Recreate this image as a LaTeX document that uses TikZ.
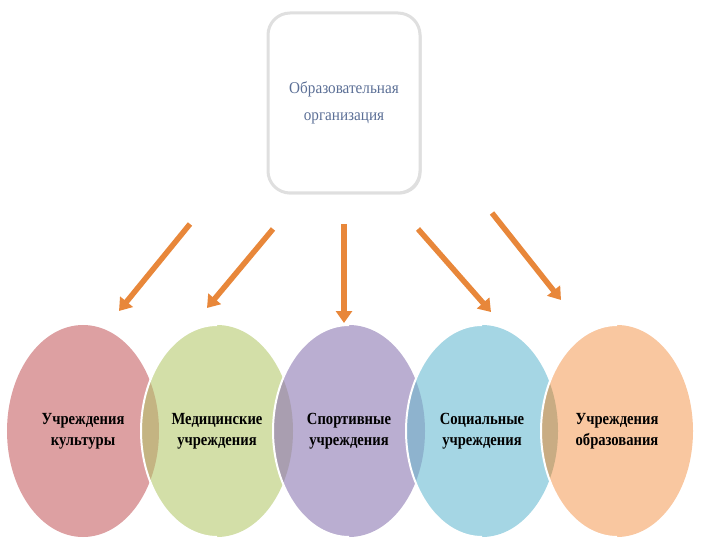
\documentclass[tikz,border=0pt]{standalone}
\usepackage{fontspec}
\setmainfont{Liberation Serif}
\usetikzlibrary{positioning}
\usetikzlibrary{shapes.geometric,arrows.meta,shadows}

\definecolor{kultcol}{HTML}{DDA0A2}
\definecolor{medcol}{HTML}{D3DFA8}
\definecolor{sportcol}{HTML}{BAAED1}
\definecolor{soccol}{HTML}{A5D6E4}
\definecolor{obrcol}{HTML}{F9C7A0}
\definecolor{ov1}{HTML}{C4B482}
\definecolor{ov2}{HTML}{A99EB0}
\definecolor{ov3}{HTML}{8EB3CE}
\definecolor{ov4}{HTML}{C9AC83}
\definecolor{arrcol}{HTML}{E8873A}
\definecolor{orgtext}{HTML}{5B6F96}

\begin{document}
\begin{tikzpicture}[x=1bp,y=-1bp,
  inst/.style={ellipse,minimum width=152bp,minimum height=212bp,inner sep=0pt,outer sep=0pt,
    align=center,font=\fontsize{17bp}{21bp}\selectfont\bfseries\addfontfeatures{FakeStretch=0.86}},
  arr/.style={draw=arrcol,line width=5.5bp,-{Triangle[width=16bp,length=12bp]}}]
\useasboundingbox (0,0) rectangle (720,540);
\node[rectangle,rounded corners=22bp,draw=gray!25,line width=3bp,fill=white,
  drop shadow={shadow xshift=1.5bp,shadow yshift=-1.5bp,opacity=0.25},
  minimum width=152bp,minimum height=180bp,align=center,text=orgtext,
  font=\fontsize{16.5bp}{27bp}\selectfont\addfontfeatures{FakeStretch=0.92}] (org) at (344,103)
  {Образовательная\\организация};
\node[inst,fill=kultcol] (inst1) at (83,431) {Учреждения\\культуры};
\node[inst,fill=medcol,right=-18bp of inst1] (inst2) {Медицинские\\учреждения};
\node[inst,fill=sportcol,right=-20bp of inst2] (inst3) {Спортивные\\учреждения};
\node[inst,fill=soccol,right=-19bp of inst3] (inst4) {Социальные\\учреждения};
\node[inst,fill=obrcol,right=-17bp of inst4] (inst5) {Учреждения\\образования};
% overlaps and white edges
\foreach \a/\b in {1/2,2/3,3/4,4/5}{
  \begin{scope}
    \clip (inst\a.center) ellipse[x radius=76bp,y radius=106bp];
    \fill[ov\a] (inst\b.center) ellipse[x radius=76bp,y radius=106bp];
  \end{scope}
  \draw[white,line width=2bp] (inst\b.north) arc[start angle=90,end angle=270,x radius=76bp,y radius=106bp];
}
\coordinate (s1) at (190,224);
\coordinate (e1) at (119,311);
\coordinate (s2) at (273,229);
\coordinate (e2) at (207,308);
\coordinate (s3) at (344,224);
\coordinate (e3) at (344,323);
\coordinate (s4) at (418,229);
\coordinate (e4) at (491,312);
\coordinate (s5) at (492,213);
\coordinate (e5) at (561,300);
\foreach \i in {1,...,5}
  \draw[arr] (s\i) -- (e\i);
\end{tikzpicture}
\end{document}
